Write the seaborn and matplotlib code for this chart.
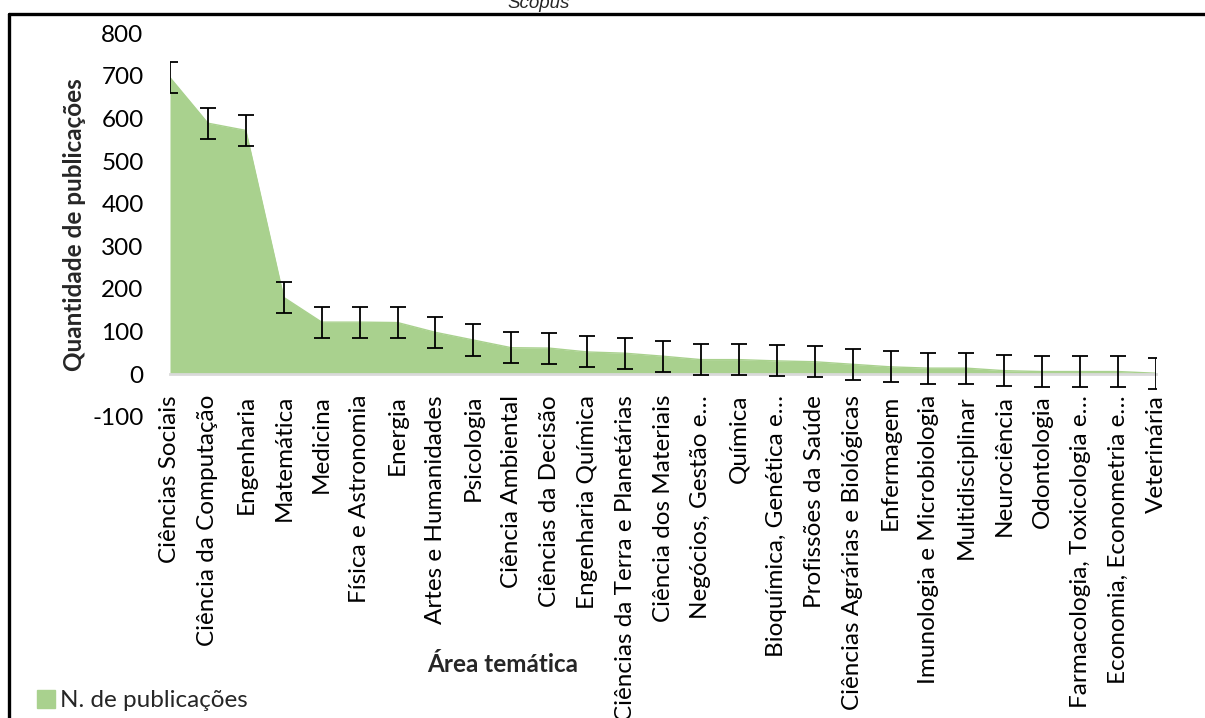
"""
Publicações por área temática (Scopus)
Gráfico de área com barras de erro
"""

import matplotlib.pyplot as plt
import matplotlib.lines as mlines
import matplotlib.patches as mpatches
import numpy as np
import pandas as pd
import seaborn as sns

# -----------------------------
# Data
# -----------------------------
AREAS = [
    "Ciências Sociais", "Ciência da Computação", "Engenharia", "Matemática",
    "Medicina", "Física e Astronomia", "Energia", "Artes e Humanidades",
    "Psicologia", "Ciência Ambiental", "Ciências da Decisão", "Engenharia Química",
    "Ciências da Terra e Planetárias", "Ciência dos Materiais", "Negócios, Gestão e…",
    "Química", "Bioquímica, Genética e…", "Profissões da Saúde",
    "Ciências Agrárias e Biológicas", "Enfermagem", "Imunologia e Microbiologia",
    "Multidisciplinar", "Neurociência", "Odontologia", "Farmacologia, Toxicologia e…",
    "Economia, Econometria e…", "Veterinária",
]
PUBLICACOES = [
    696, 589, 572, 180, 122, 122, 121, 98, 80, 62, 61, 52, 49, 42, 34,
    34, 31, 29, 23, 17, 14, 14, 8, 6, 6, 6, 2,
]
ERRO = 36.5  # barra de erro constante (erro padrão)

Y_TICKS = [-100, 0, 100, 200, 300, 400, 500, 600, 700, 800]

GREEN = "#a9d18e"
AXIS_GRAY = "#d9d9d9"

# -----------------------------
# Style
# -----------------------------
sns.set_theme(style="white")
plt.rcParams["font.family"] = ["Lato", "DejaVu Sans"]
plt.rcParams["axes.unicode_minus"] = False

W, H = 1205, 718
fig = plt.figure(figsize=(W / 100, H / 100), dpi=100)


def fx(px):
    return px / W


def fy(py):
    return 1 - py / H


ax = fig.add_axes([fx(170), fy(416.7), fx(1156 - 170), (416.7 - 33.3) / H])

df = pd.DataFrame({"area": AREAS, "n": PUBLICACOES})
df["pos"] = np.arange(len(df))

# area
ax.fill_between(df["pos"], 0, df["n"], color=GREEN, linewidth=0, zorder=1)
sns.lineplot(data=df, x="pos", y="n", color=GREEN, linewidth=1.0, ax=ax,
             zorder=2, legend=False)

# error bars
ax.errorbar(df["pos"], df["n"], yerr=ERRO, fmt="none", ecolor="black",
            elinewidth=1.3, capsize=5.5, capthick=1.3, zorder=3)

# spines first: moving the spine resets the ticks
for side in ["top", "right", "left"]:
    ax.spines[side].set_visible(False)
ax.spines["bottom"].set_position(("data", 0))
ax.spines["bottom"].set_color(AXIS_GRAY)
ax.spines["bottom"].set_linewidth(2.0)
ax.spines["bottom"].set_zorder(2.5)

ax.set_xlim(0, len(df) - 1)
ax.set_ylim(-100, 800)
ax.set_yticks(Y_TICKS)
ax.set_yticklabels([str(v) for v in Y_TICKS], fontsize=17.5)
ax.set_xticks(df["pos"])
ax.set_xticklabels(df["area"], rotation=90, fontsize=17.5)

ax.tick_params(axis="x", direction="out", length=6, width=1.5, color=AXIS_GRAY,
               pad=9, labelcolor="black")
ax.tick_params(axis="y", length=0, pad=19, labelcolor="black")
ax.set_xlabel("")
ax.set_ylabel("")
ax.grid(False)

# axis titles
fig.text(fx(75), fy(225), "Quantidade de publicações", rotation=90,
         ha="center", va="center", fontsize=17.5, fontweight="bold")
fig.text(fx(503), fy(665), "Área temática", ha="center", va="center",
         fontsize=17.5, fontweight="bold")

# chart title (cropped at the top)
fig.text(fx(539), fy(12.5), "Scopus", ha="center", va="bottom", fontsize=13.5,
         style="italic", family=["Liberation Sans", "DejaVu Sans"])

# outer frame
fig.add_artist(mlines.Line2D([fx(9), 1.01], [fy(14), fy(14)], color="black",
                             linewidth=2.4, transform=fig.transFigure))
fig.add_artist(mlines.Line2D([fx(9), fx(9)], [fy(14), -0.01], color="black",
                             linewidth=2.4, transform=fig.transFigure))

# legend
handle = mpatches.Patch(color=GREEN, label="N. de publicações")
fig.legend(handles=[handle], loc="lower left", bbox_to_anchor=(fx(32), fy(716)),
           frameon=False, fontsize=17.5, handlelength=0.75, handleheight=0.75,
           handletextpad=0.2, borderaxespad=0, borderpad=0.2)

fig.savefig("out.png", dpi=100)
